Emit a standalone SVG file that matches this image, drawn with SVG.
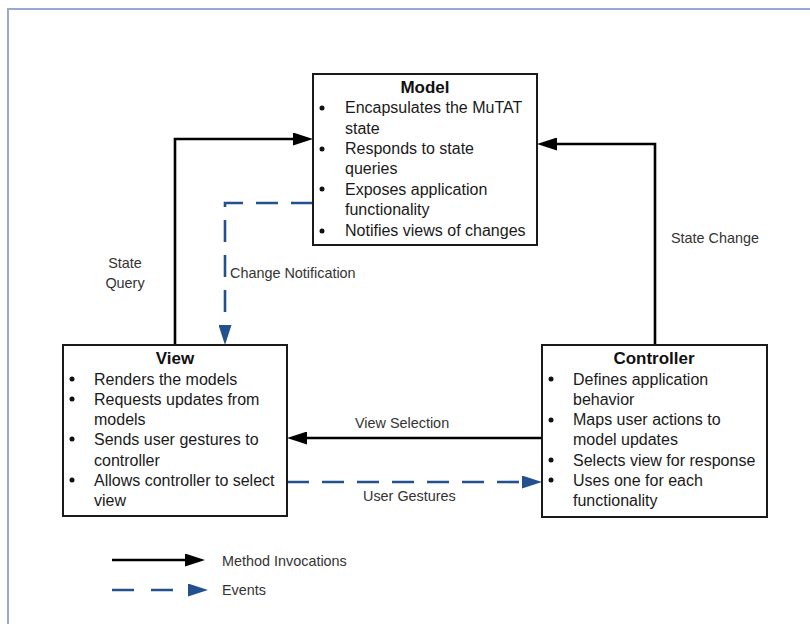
<svg xmlns="http://www.w3.org/2000/svg" width="810" height="624" viewBox="0 0 810 624">
<style>
.frame{fill:none;stroke:#9aabc9;stroke-width:2}
.box{fill:#fff;stroke:#1a1a1a;stroke-width:2}
.title{font-family:"Liberation Sans",Arial,sans-serif;font-size:17px;font-weight:bold;fill:#111;text-anchor:middle}
.item{font-family:"Liberation Sans",Arial,sans-serif;font-size:16px;fill:#1a1a1a}
.lbl{font-family:"Liberation Sans",Arial,sans-serif;font-size:14.4px;fill:#333}
.bul{fill:#111}
.call{fill:none;stroke:#000;stroke-width:2.6}
.evt{fill:none;stroke:#23508f;stroke-width:2.6;stroke-dasharray:22 13}
</style>
<defs>
<marker id="ah" markerUnits="userSpaceOnUse" markerWidth="20" markerHeight="13" refX="10" refY="6.5" orient="auto">
<path d="M0,0 L20,6.5 L0,13 z" fill="#000"/>
</marker>
<marker id="ahb" markerUnits="userSpaceOnUse" markerWidth="20" markerHeight="13" refX="10" refY="6.5" orient="auto">
<path d="M0,0 L20,6.5 L0,13 z" fill="#23508f"/>
</marker>
</defs>
<rect width="810" height="624" fill="#fff"/>
<path class="frame" d="M8,640 V9 H820"/>

<g id="connectors">
<path id="state-query" class="call" d="M175,345 V139 H303" marker-end="url(#ah)"/>
<path id="change-notification" class="evt" d="M313,203 H225 V335" marker-end="url(#ahb)"/>
<path id="state-change" class="call" d="M655,345 V144 H547" marker-end="url(#ah)"/>
<path id="view-selection" class="call" d="M542,438 H297" marker-end="url(#ah)"/>
<path id="user-gestures" class="evt" d="M287,482 H532" marker-end="url(#ahb)"/>
<text class="lbl" x="125" y="268" text-anchor="middle">State</text>
<text class="lbl" x="125" y="288" text-anchor="middle">Query</text>
<text class="lbl" x="230" y="278">Change Notification</text>
<text class="lbl" x="671" y="243">State Change</text>
<text class="lbl" x="355" y="428">View Selection</text>
<text class="lbl" x="363" y="501">User Gestures</text>
</g>

<g id="model">
<rect class="box" x="313" y="74" width="224" height="171"/>
<text class="title" x="425" y="93">Model</text>
<circle class="bul" cx="322" cy="108" r="2.5"/>
<circle class="bul" cx="322" cy="149" r="2.5"/>
<circle class="bul" cx="322" cy="189" r="2.5"/>
<circle class="bul" cx="322" cy="231" r="2.5"/>
<text class="item" x="345" y="113">Encapsulates the MuTAT</text>
<text class="item" x="345" y="134">state</text>
<text class="item" x="345" y="154">Responds to state</text>
<text class="item" x="345" y="174">queries</text>
<text class="item" x="345" y="195">Exposes application</text>
<text class="item" x="345" y="215">functionality</text>
<text class="item" x="345" y="236">Notifies views of changes</text>
</g>

<g id="view">
<rect class="box" x="63" y="345" width="224" height="171"/>
<text class="title" x="175" y="364">View</text>
<circle class="bul" cx="72" cy="379" r="2.5"/>
<circle class="bul" cx="72" cy="399" r="2.5"/>
<circle class="bul" cx="72" cy="439" r="2.5"/>
<circle class="bul" cx="72" cy="480" r="2.5"/>
<text class="item" x="94" y="385">Renders the models</text>
<text class="item" x="94" y="405">Requests updates from</text>
<text class="item" x="94" y="425">models</text>
<text class="item" x="94" y="445">Sends user gestures to</text>
<text class="item" x="94" y="466">controller</text>
<text class="item" x="94" y="486">Allows controller to select</text>
<text class="item" x="94" y="506">view</text>
</g>

<g id="controller">
<rect class="box" x="542" y="345" width="225" height="172"/>
<text class="title" x="654" y="364">Controller</text>
<circle class="bul" cx="551" cy="379" r="2.5"/>
<circle class="bul" cx="551" cy="420" r="2.5"/>
<circle class="bul" cx="551" cy="460" r="2.5"/>
<circle class="bul" cx="551" cy="480" r="2.5"/>
<text class="item" x="573" y="385">Defines application</text>
<text class="item" x="573" y="405">behavior</text>
<text class="item" x="573" y="425">Maps user actions to</text>
<text class="item" x="573" y="445">model updates</text>
<text class="item" x="573" y="466">Selects view for response</text>
<text class="item" x="573" y="486">Uses one for each</text>
<text class="item" x="573" y="506">functionality</text>
</g>

<g id="legend">
<path class="call" d="M112,560 H195" marker-end="url(#ah)"/>
<path class="evt" style="stroke-dasharray:22 17" d="M112,590 H198" marker-end="url(#ahb)"/>
<text class="lbl" x="222" y="566">Method Invocations</text>
<text class="lbl" x="222" y="595">Events</text>
</g>
</svg>
